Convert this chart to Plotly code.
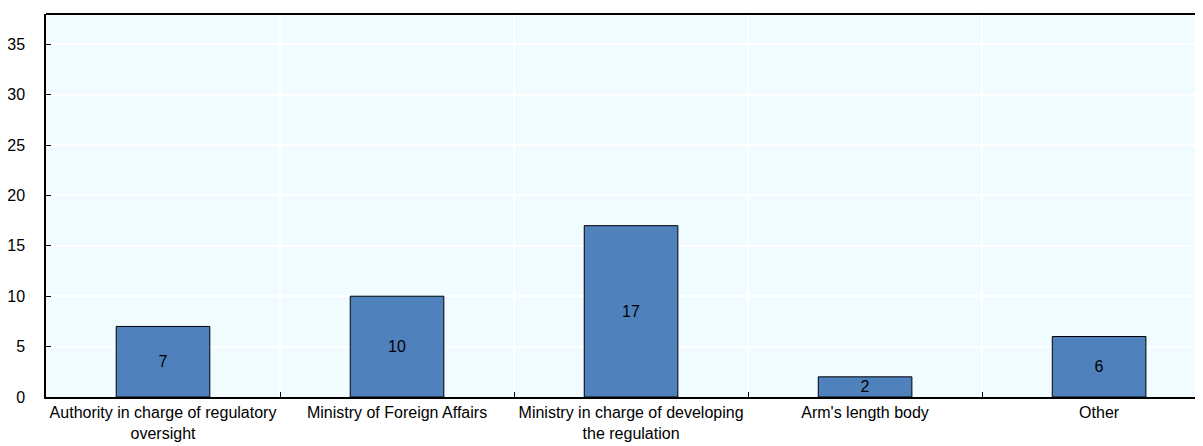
import plotly.graph_objects as go

categories = [
    "Authority in charge of regulatory<br>oversight",
    "Ministry of Foreign Affairs",
    "Ministry in charge of developing<br>the regulation",
    "Arm's length body",
    "Other",
]
values = [7, 10, 17, 2, 6]
y_ticks = [0, 5, 10, 15, 20, 25, 30, 35]

font_family = "Liberation Sans, Arial, sans-serif"

fig = go.Figure(
    go.Bar(
        x=categories,
        y=values,
        width=0.4,
        marker=dict(color="#4F81BD", line=dict(color="black", width=1)),
        text=values,
        textposition="inside",
        insidetextanchor="middle",
        textangle=0,
        textfont=dict(color="black", size=16, family=font_family),
        constraintext="none",
        cliponaxis=False,
    )
)

# page body has an 8px margin, so the figure is shrunk and shifted to match
fig.update_layout(
    width=1195,
    height=438,
    margin=dict(l=38, r=0, t=6, b=49, autoexpand=False),
    paper_bgcolor="white",
    plot_bgcolor="#F0FCFF",
    showlegend=False,
    font=dict(family=font_family, size=16, color="black"),
    xaxis=dict(
        type="category",
        range=[-0.5, 4.444],
        tickson="boundaries",
        ticks="inside",
        ticklen=5,
        tickcolor="black",
        tickangle=0,
        automargin=False,
        showgrid=True,
        gridcolor="white",
        gridwidth=1.5,
        showline=True,
        linecolor="black",
        linewidth=2,
        tickfont=dict(size=16),
    ),
    yaxis=dict(
        range=[0, 38],
        tickvals=y_ticks,
        ticks="inside",
        ticklen=5,
        tickcolor="black",
        ticklabelstandoff=16,
        automargin=False,
        showgrid=True,
        gridcolor="white",
        gridwidth=1.5,
        showline=True,
        linecolor="black",
        linewidth=1.5,
        zeroline=False,
        tickfont=dict(size=16),
    ),
    shapes=[
        dict(type="line", xref="paper", yref="paper", x0=0, x1=1, y0=1, y1=1,
             line=dict(color="black", width=2)),
    ],
    uniformtext=dict(mode=False),
)

fig.write_html("out.html")
